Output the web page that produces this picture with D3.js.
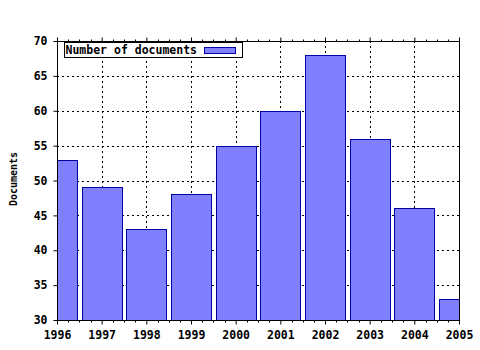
<!DOCTYPE html>
<html>
<head>
<meta charset="utf-8">
<script src="https://cdn.jsdelivr.net/npm/d3@7"></script>
<style>
  body { margin: 0; background: #fff; }
  text { font-family: "DejaVu Sans Mono", monospace; font-weight: bold; fill: #000; }
</style>
</head>
<body>
<div id="chart"></div>
<script>
// podaci
const years = [1996, 1997, 1998, 1999, 2000, 2001, 2002, 2003, 2004, 2005];
const documents = [53, 49, 43, 48, 55, 60, 68, 56, 46, 33];
const yTicks = [30, 35, 40, 45, 50, 55, 60, 65, 70];
const seriesName = "Number of documents";

const dim = {
    width: 480,
    height: 350,
    margin: { top: 41, right: 21, bottom: 30, left: 57 }
};
dim.w = dim.width - dim.margin.left - dim.margin.right;
dim.h = dim.height - dim.margin.top - dim.margin.bottom;

const svg = d3.select("#chart")
    .append("svg")
    .attr("width", dim.width)
    .attr("height", dim.height);

const g = svg.append("g")
    .attr("transform", `translate(${dim.margin.left},${dim.margin.top})`);

const x = d3.scaleLinear()
    .domain([d3.min(years), d3.max(years)])
    .range([0, dim.w]);

const y = d3.scaleLinear()
    .domain([30, 70])
    .range([dim.h, 0]);

// mreza
g.append("g")
    .selectAll("line")
    .data(years.slice(1, -1))
    .join("line")
    .attr("x1", d => Math.round(x(d)) + 0.5)
    .attr("x2", d => Math.round(x(d)) + 0.5)
    .attr("y1", 0)
    .attr("y2", dim.h)
    .attr("stroke", "#000")
    .attr("stroke-dasharray", "2,3");

g.append("g")
    .selectAll("line")
    .data(yTicks.slice(1, -1))
    .join("line")
    .attr("x1", 0)
    .attr("x2", dim.w)
    .attr("y1", d => Math.round(y(d)) + 0.5)
    .attr("y2", d => Math.round(y(d)) + 0.5)
    .attr("stroke", "#000")
    .attr("stroke-dasharray", "2,3");

// stupci
g.append("clipPath")
    .attr("id", "clip")
    .append("rect")
    .attr("width", dim.w)
    .attr("height", dim.h);

const step = x(years[1]) - x(years[0]);
const barW = step * 0.9;

g.append("g")
    .attr("clip-path", "url(#clip)")
    .selectAll("rect")
    .data(years)
    .join("rect")
    .attr("x", d => Math.round(x(d) - barW / 2) + 0.5)
    .attr("y", (d, i) => Math.round(y(documents[i])) + 0.5)
    .attr("width", Math.round(barW))
    .attr("height", (d, i) => dim.h - Math.round(y(documents[i])))
    .attr("fill", "#8080ff")
    .attr("stroke", "#0000a0")
    .attr("stroke-width", 1);

// osi
const minorTicks = [];
for (let i = 0; i < years.length - 1; i++) {
    for (let k = 1; k < 4; k++) minorTicks.push(years[i] + k / 4);
}

const xAxis = d3.axisBottom(x)
    .tickValues(years)
    .tickFormat(d3.format("d"))
    .tickSize(4)
    .tickPadding(6);

const xAxisG = g.append("g")
    .attr("transform", `translate(0,${dim.h + 0.5})`)
    .call(xAxis);
xAxisG.select(".domain").remove();
xAxisG.selectAll("text").attr("font-size", 11.5);

const xTop = g.append("g")
    .attr("transform", "translate(0,0.5)")
    .call(d3.axisTop(x).tickValues(years).tickFormat("").tickSize(4));
xTop.select(".domain").remove();

[0.5, dim.h + 0.5].forEach((yy, j) => {
    g.append("g")
        .selectAll("line")
        .data(minorTicks)
        .join("line")
        .attr("x1", d => Math.round(x(d)) + 0.5)
        .attr("x2", d => Math.round(x(d)) + 0.5)
        .attr("y1", yy)
        .attr("y2", j === 0 ? yy - 2 : yy + 2)
        .attr("stroke", "#000");
});

const yAxisG = g.append("g")
    .attr("transform", "translate(0.5,0)")
    .call(d3.axisLeft(y).tickValues(yTicks).tickSize(4).tickPadding(6));
yAxisG.select(".domain").remove();
yAxisG.selectAll("text").attr("font-size", 11.5);

// okvir
g.append("line")
    .attr("x1", 0.5).attr("x2", 0.5).attr("y1", 0).attr("y2", dim.h + 1)
    .attr("stroke", "#000");
g.append("line")
    .attr("x1", dim.w + 0.5).attr("x2", dim.w + 0.5).attr("y1", 0).attr("y2", dim.h + 1)
    .attr("stroke", "#000");
g.append("line")
    .attr("x1", 0).attr("x2", dim.w + 1).attr("y1", 0.5).attr("y2", 0.5)
    .attr("stroke", "#000");
g.append("line")
    .attr("x1", 0).attr("x2", dim.w + 1).attr("y1", dim.h + 0.5).attr("y2", dim.h + 0.5)
    .attr("stroke", "#000");

// naslov osi
svg.append("text")
    .attr("transform", "translate(17,179) rotate(-90)")
    .attr("text-anchor", "middle")
    .attr("font-size", 10)
    .text("Documents");

// legenda
const legend = svg.append("g")
    .attr("transform", "translate(64.5,42.5)");
legend.append("rect")
    .attr("width", 178)
    .attr("height", 15)
    .attr("fill", "#fff")
    .attr("stroke", "#000");
legend.append("text")
    .attr("x", 1)
    .attr("y", 11)
    .attr("font-size", 11.5)
    .text(seriesName);
legend.append("rect")
    .attr("x", 140)
    .attr("y", 5)
    .attr("width", 31)
    .attr("height", 6)
    .attr("fill", "#8080ff")
    .attr("stroke", "#0000a0");
</script>
</body>
</html>
